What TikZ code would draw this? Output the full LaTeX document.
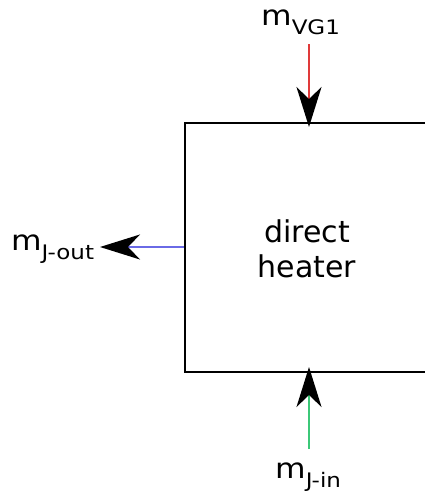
\documentclass[tikz,border=0pt]{standalone}
\usepackage{fontspec}
\setmainfont{DejaVu Sans}
\usetikzlibrary{arrows.meta}
\definecolor{flowred}{HTML}{E03A3A}
\definecolor{flowblue}{HTML}{6A6AE6}
\definecolor{flowgreen}{HTML}{3CC878}
\newcommand{\flowlbl}[1]{\scalebox{1.12}[1]{\fontsize{28}{32}\selectfont m}\raisebox{-9pt}{\scalebox{1.15}[1]{\fontsize{20}{22}\selectfont #1}}}
\begin{document}
\begin{tikzpicture}[x=1pt,y=-1pt,
  flow/.style={line width=2pt, -{Stealth[length=40pt,width=25pt,inset=12pt,black]}},
  lbl/.style={inner sep=0pt, anchor=base west},
  heatertxt/.style={inner sep=0pt, anchor=base, font=\fontsize{30}{35}\selectfont}]
\useasboundingbox (0,0) rectangle (425,493);
\clip (0,0) rectangle (425,493);
\node[draw, line width=2.3pt, minimum width=260pt, minimum height=249pt, anchor=north west, inner sep=0pt] (heater) at (184,122) {};
\node[heatertxt] (t1) at (307,242) {direct};
\node[heatertxt] (t2) at (307,277) {heater};
% labels
\node[lbl] (vg1) at (261,25) {\flowlbl{VG1}};
\node[lbl] (jout) at (11,250) {\flowlbl{J-out}};
\node[lbl] (jin) at (275,478) {\flowlbl{J-in}};
% connectors
\coordinate (vgstart) at (309,44);
\coordinate (vgtip) at (309,127);
\coordinate (outstart) at (184,247);
\coordinate (outtip) at (100,247);
\coordinate (instart) at (309,449);
\coordinate (intip) at (309,367);
\draw[flow, flowred] (vgstart) -- (vgtip);
\draw[flow, flowblue] (outstart) -- (outtip);
\draw[flow, flowgreen] (instart) -- (intip);
\end{tikzpicture}
\end{document}
